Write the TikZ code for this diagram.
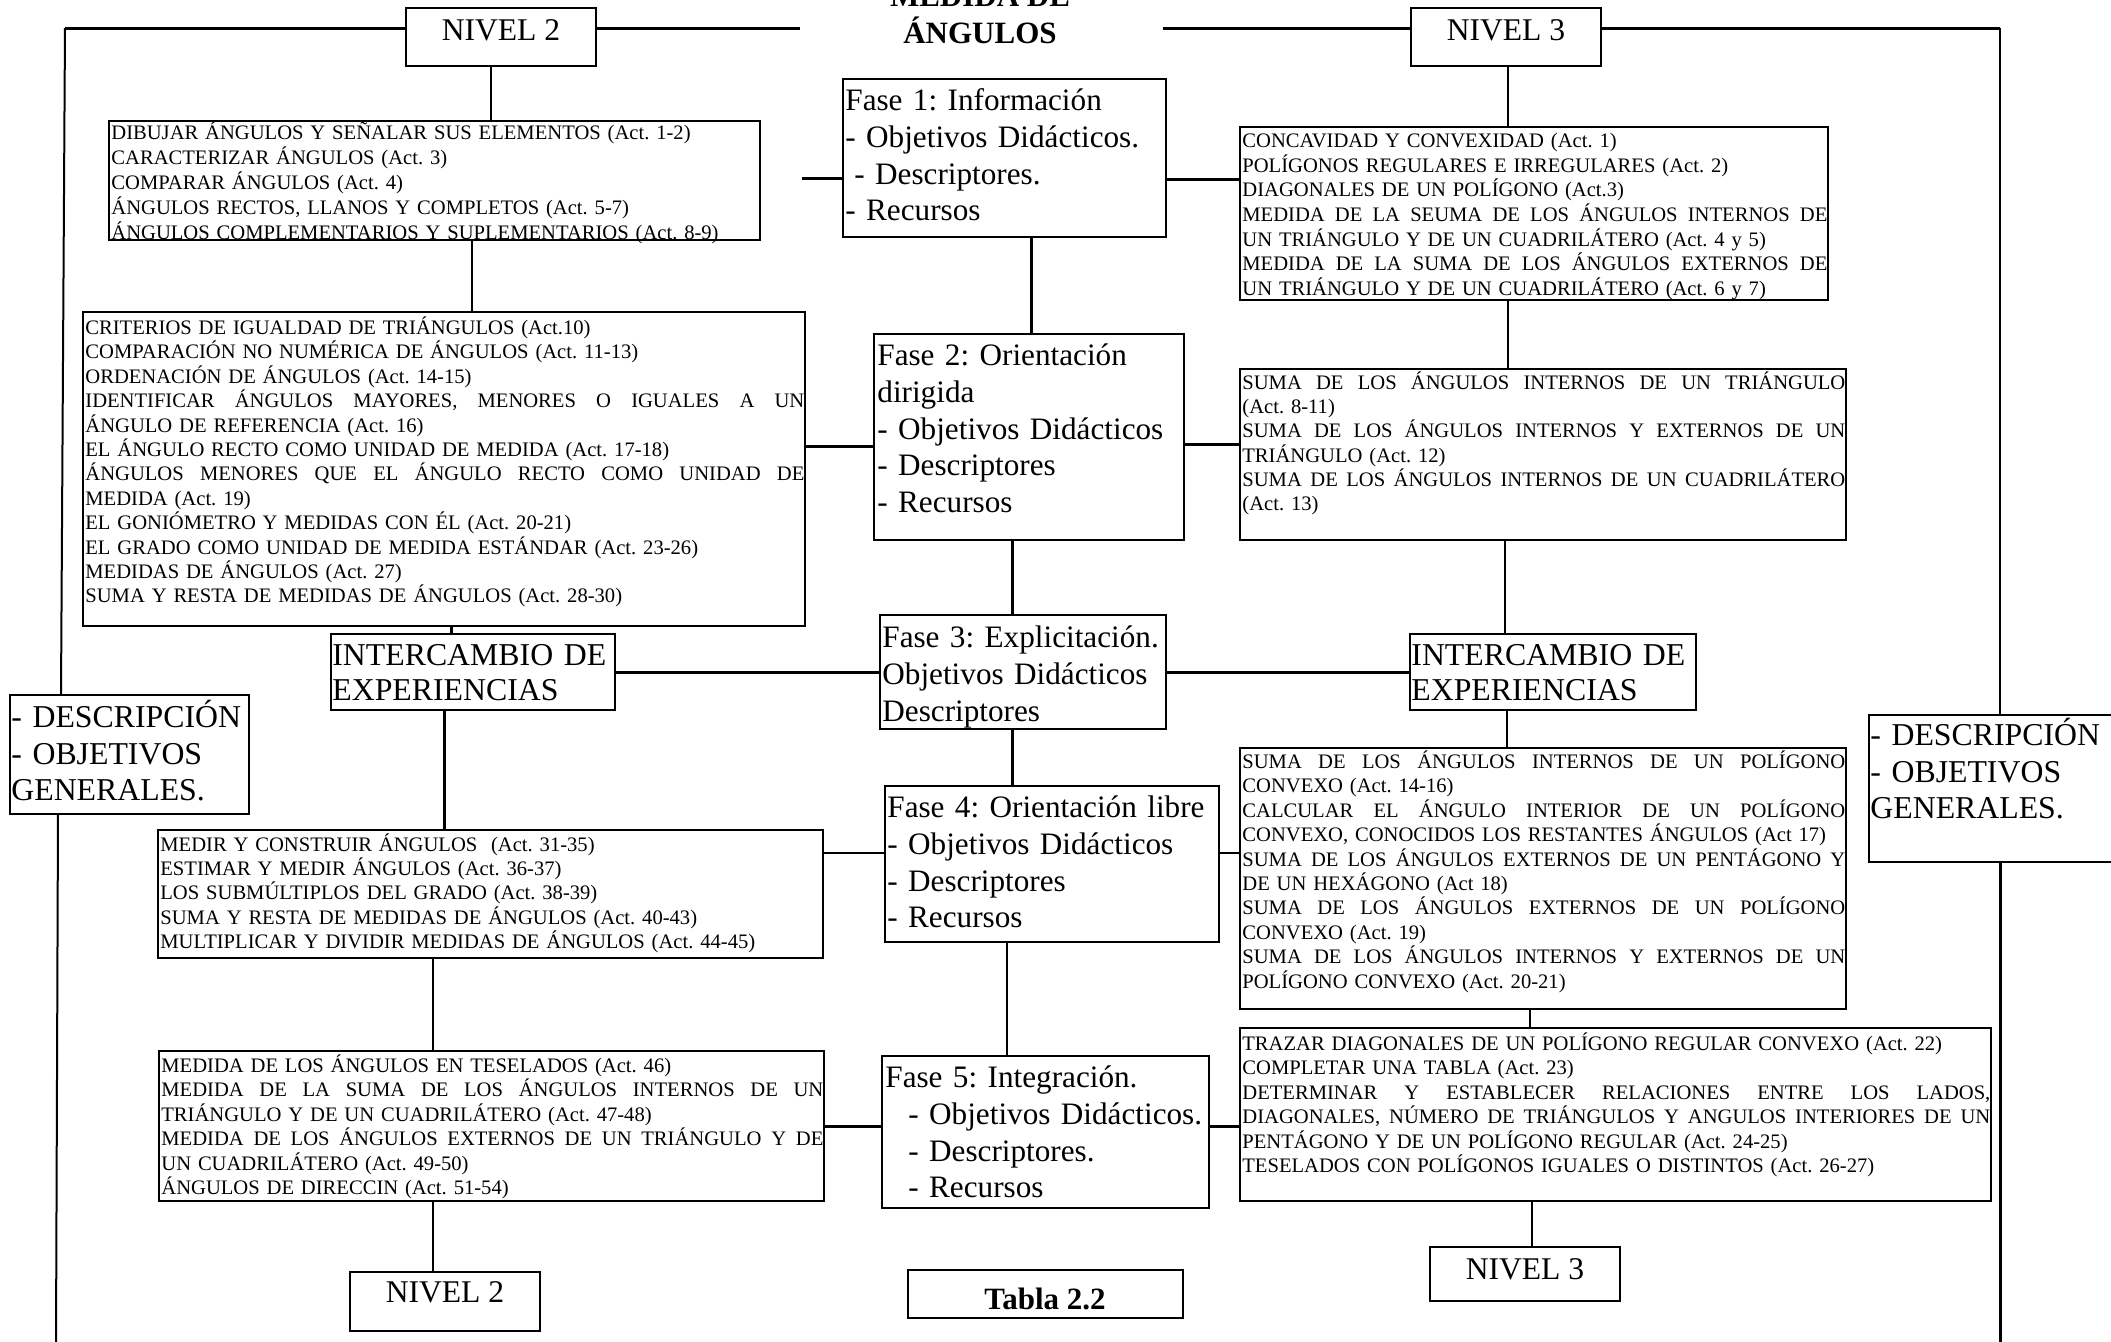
\documentclass[tikz,border=0pt]{standalone}
\usepackage{fontspec}
\setmainfont{Liberation Serif}
\usetikzlibrary{fit}
% a line of the given width whose interword spaces stretch to fill it
\newcommand\jl[2]{\leavevmode\hbox to #1{\spaceskip=.25em plus 1fil\relax #2}}
% fixed first-line heights, so that a node's top sits a known distance above its first baseline
\newcommand\smstrut{\rule{0pt}{10pt}}
\newcommand\bgstrut{\rule{0pt}{15pt}}
\begin{document}
\frenchspacing
\begin{tikzpicture}[x=0.5pt,y=-0.5pt,
  box/.style={draw, line width=1.2pt, inner sep=0pt, outer sep=0pt},
  smalltxt/.style={anchor=north west, inner sep=0pt, font=\fontsize{10.3pt}{12.2pt}\selectfont},
  bigtxt/.style={anchor=north west, inner sep=0pt, text width=220pt, font=\fontsize{15.6pt}{18.4pt}\selectfont},
  leveltxt/.style={anchor=base, inner sep=0pt, font=\fontsize{15.8pt}{18pt}\selectfont},
  titletxt/.style={anchor=base, inner sep=0pt, font=\bfseries\fontsize{15.5pt}{18pt}\selectfont},
  thickline/.style={line width=1.5pt},
  midline/.style={line width=1.0pt},
  thinline/.style={line width=0.7pt},
]
\path[use as bounding box, fill=white] (0,0) rectangle (2111,1341);

% ---------- title ----------
\node[titletxt] (title1) at (980,6) {MEDIDA DE};
\node[titletxt] (title2) at (980,43) {ÁNGULOS};

% ---------- boxes ----------
\node[box, fit={(406,8)(596,66)}] (n2t) {};
\node[box, fit={(109,121)(760,240)}] (dib) {};
\node[box, fit={(83,312)(805,626)}] (crit) {};
\node[box, fit={(331,634)(615,710)}] (intL) {};
\node[box, fit={(10,695)(249,814)}] (desL) {};
\node[box, fit={(158,830)(823,958)}] (medir) {};
\node[box, fit={(159,1051)(824,1201)}] (medida) {};
\node[box, fit={(350,1272)(540,1331)}] (n2b) {};
\node[box, fit={(843,79)(1166,237)}] (f1) {};
\node[box, fit={(874,334)(1184,540)}] (f2) {};
\node[box, fit={(880,615)(1166,729)}] (f3) {};
\node[box, fit={(885,786)(1219,942)}] (f4) {};
\node[box, fit={(882,1056)(1209,1208)}] (f5) {};
\node[box, fit={(908,1270)(1183,1318)}] (tabla) {};
\node[box, fit={(1411,8)(1601,66)}] (n3t) {};
\node[box, fit={(1240,127)(1828,300)}] (conc) {};
\node[box, fit={(1240,369)(1846,540)}] (sumt) {};
\node[box, fit={(1410,634)(1696,710)}] (intR) {};
\node[box, fit={(1869,715)(2125,862)}] (desR) {};
\node[box, fit={(1240,748)(1846,1009)}] (sump) {};
\node[box, fit={(1240,1028)(1991,1201)}] (traz) {};
\node[box, fit={(1430,1247)(1620,1301)}] (n3b) {};

% ---------- level labels ----------
\node[leveltxt] (n2tx) at (501,40) {NIVEL 2};
\node[leveltxt] (n3tx) at (1506,40) {NIVEL 3};
\node[leveltxt] (n2bx) at (445,1302) {NIVEL 2};
\node[leveltxt] (n3bx) at (1525,1279) {NIVEL 3};
\node[titletxt] (tablax) at (1045,1309) {Tabla 2.2};

% ---------- phase texts ----------
\node[bigtxt] (f1x) at (845,80) {\bgstrut Fase 1: Información\\- Objetivos Didácticos.\\\hspace*{4.5pt}- Descriptores.\\- Recursos};
\node[bigtxt] (f2x) at (877,335) {\bgstrut Fase 2: Orientación\\dirigida\\- Objetivos Didácticos\\- Descriptores\\- Recursos};
\node[bigtxt] (f3x) at (882,617) {\bgstrut Fase 3: Explicitación.\\Objetivos Didácticos\\Descriptores};
\node[bigtxt] (f4x) at (887,787) {\bgstrut Fase 4: Orientación libre\\- Objetivos Didácticos\\- Descriptores\\- Recursos};
\node[bigtxt] (f5x) at (885,1057) {\bgstrut Fase 5: Integración.\\\hspace*{11.5pt}- Objetivos Didácticos.\\\hspace*{11.5pt}- Descriptores.\\\hspace*{11.5pt}- Recursos};

\node[bigtxt, font=\fontsize{15.9pt}{17.5pt}\selectfont] (intLx) at (332,635) {\bgstrut INTERCAMBIO DE\\EXPERIENCIAS};
\node[bigtxt, font=\fontsize{15.9pt}{17.5pt}\selectfont] (intRx) at (1411,635) {\bgstrut INTERCAMBIO DE\\EXPERIENCIAS};
\node[bigtxt, font=\fontsize{15.9pt}{18.3pt}\selectfont] (desLx) at (11,697) {\bgstrut - DESCRIPCIÓN\\- OBJETIVOS\\GENERALES.};
\node[bigtxt, font=\fontsize{15.9pt}{18.3pt}\selectfont] (desRx) at (1870,715) {\bgstrut - DESCRIPCIÓN\\- OBJETIVOS\\GENERALES.};

% ---------- level 2 contents ----------
\node[smalltxt, text width=323pt, font=\fontsize{10.3pt}{12.5pt}\selectfont] (dibx) at (111,119) {\smstrut DIBUJAR ÁNGULOS Y SEÑALAR SUS ELEMENTOS (Act. 1-2)\\
CARACTERIZAR ÁNGULOS (Act. 3)\\
COMPARAR ÁNGULOS (Act. 4)\\
ÁNGULOS RECTOS, LLANOS Y COMPLETOS (Act. 5-7)\\
ÁNGULOS COMPLEMENTARIOS Y SUPLEMENTARIOS (Act. 8-9)};

\node[smalltxt, text width=359.5pt] (critx) at (85,314) {\smstrut CRITERIOS DE IGUALDAD DE TRIÁNGULOS (Act.10)\\
COMPARACIÓN NO NUMÉRICA DE ÁNGULOS (Act. 11-13)\\
ORDENACIÓN DE ÁNGULOS (Act. 14-15)\\
\jl{359.5pt}{IDENTIFICAR ÁNGULOS MAYORES, MENORES O IGUALES A UN}\\
ÁNGULO DE REFERENCIA (Act. 16)\\
EL ÁNGULO RECTO COMO UNIDAD DE MEDIDA (Act. 17-18)\\
\jl{359.5pt}{ÁNGULOS MENORES QUE EL ÁNGULO RECTO COMO UNIDAD DE}\\
MEDIDA (Act. 19)\\
EL GONIÓMETRO Y MEDIDAS CON ÉL (Act. 20-21)\\
EL GRADO COMO UNIDAD DE MEDIDA ESTÁNDAR (Act. 23-26)\\
MEDIDAS DE ÁNGULOS (Act. 27)\\
SUMA Y RESTA DE MEDIDAS DE ÁNGULOS (Act. 28-30)};

\node[smalltxt, text width=331pt, font=\fontsize{10.3pt}{12.1pt}\selectfont] (medirx) at (160,831) {\smstrut MEDIR Y CONSTRUIR ÁNGULOS~ (Act. 31-35)\\
ESTIMAR Y MEDIR ÁNGULOS (Act. 36-37)\\
LOS SUBMÚLTIPLOS DEL GRADO (Act. 38-39)\\
SUMA Y RESTA DE MEDIDAS DE ÁNGULOS (Act. 40-43)\\
MULTIPLICAR Y DIVIDIR MEDIDAS DE ÁNGULOS (Act. 44-45)};

\node[smalltxt, text width=331pt] (medidax) at (161,1052) {\smstrut MEDIDA DE LOS ÁNGULOS EN TESELADOS (Act. 46)\\
\jl{331pt}{MEDIDA DE LA SUMA DE LOS ÁNGULOS INTERNOS DE UN}\\
TRIÁNGULO Y DE UN CUADRILÁTERO (Act. 47-48)\\
\jl{331pt}{MEDIDA DE LOS ÁNGULOS EXTERNOS DE UN TRIÁNGULO Y DE}\\
UN CUADRILÁTERO (Act. 49-50)\\
ÁNGULOS DE DIRECCIN (Act. 51-54)};

% ---------- level 3 contents ----------
\node[smalltxt, text width=292.5pt, font=\fontsize{10.3pt}{12.35pt}\selectfont] (concx) at (1242,127) {\smstrut CONCAVIDAD Y CONVEXIDAD (Act. 1)\\
POLÍGONOS REGULARES E IRREGULARES (Act. 2)\\
DIAGONALES DE UN POLÍGONO (Act.3)\\
\jl{292.5pt}{MEDIDA DE LA SEUMA DE LOS ÁNGULOS INTERNOS DE}\\
UN TRIÁNGULO Y DE UN CUADRILÁTERO (Act. 4 y 5)\\
\jl{292.5pt}{MEDIDA DE LA SUMA DE LOS ÁNGULOS EXTERNOS DE}\\
UN TRIÁNGULO Y DE UN CUADRILÁTERO (Act. 6 y 7)};

\node[smalltxt, text width=301.5pt, font=\fontsize{10.3pt}{12.1pt}\selectfont] (sumtx) at (1242,369) {\smstrut\jl{301.5pt}{SUMA DE LOS ÁNGULOS INTERNOS DE UN TRIÁNGULO}\\
(Act. 8-11)\\
\jl{301.5pt}{SUMA DE LOS ÁNGULOS INTERNOS Y EXTERNOS DE UN}\\
TRIÁNGULO (Act. 12)\\
\jl{301.5pt}{SUMA DE LOS ÁNGULOS INTERNOS DE UN CUADRILÁTERO}\\
(Act. 13)};

\node[smalltxt, text width=301.5pt] (sumpx) at (1242,748) {\smstrut\jl{301.5pt}{SUMA DE LOS ÁNGULOS INTERNOS DE UN POLÍGONO}\\
CONVEXO (Act. 14-16)\\
\jl{301.5pt}{CALCULAR EL ÁNGULO INTERIOR DE UN POLÍGONO}\\
CONVEXO, CONOCIDOS LOS RESTANTES ÁNGULOS (Act 17)\\
\jl{301.5pt}{SUMA DE LOS ÁNGULOS EXTERNOS DE UN PENTÁGONO Y}\\
DE UN HEXÁGONO (Act 18)\\
\jl{301.5pt}{SUMA DE LOS ÁNGULOS EXTERNOS DE UN POLÍGONO}\\
CONVEXO (Act. 19)\\
\jl{301.5pt}{SUMA DE LOS ÁNGULOS INTERNOS Y EXTERNOS DE UN}\\
POLÍGONO CONVEXO (Act. 20-21)};

\node[smalltxt, text width=374pt, font=\fontsize{10.3pt}{12.25pt}\selectfont] (trazx) at (1242,1030) {\smstrut TRAZAR DIAGONALES DE UN POLÍGONO REGULAR CONVEXO (Act. 22)\\
COMPLETAR UNA TABLA (Act. 23)\\
\jl{374pt}{DETERMINAR Y ESTABLECER RELACIONES ENTRE LOS LADOS,}\\
\jl{374pt}{DIAGONALES, NÚMERO DE TRIÁNGULOS Y ANGULOS INTERIORES DE UN}\\
PENTÁGONO Y DE UN POLÍGONO REGULAR (Act. 24-25)\\
TESELADOS CON POLÍGONOS IGUALES O DISTINTOS (Act. 26-27)};

% ---------- free ends of the frame lines ----------
\coordinate (tl) at (65,28);
\coordinate (bl) at (56,1345);
\coordinate (tr) at (2000,28);
\coordinate (br) at (2000,1345);
\coordinate (tm1) at (800,28);
\coordinate (tm2) at (1163,28);
\coordinate (f1stub) at (802,178);

% ---------- frame ----------
\draw[thickline] (tl -| n2t.west) -- (tl);
\draw[midline] (tl) -- (desL.north -| 61,0);
\draw[midline] (desL.south -| 58,0) -- (bl);
\draw[thickline] (tl -| n2t.east) -- (tm1);
\draw[thickline] (tm2) -- (tm2 -| n3t.west);
\draw[thickline] (tr -| n3t.east) -- (tr);
\draw[midline] (tr) -- (desR.north -| tr);
\draw[thickline] (desR.south -| tr) -- (br);

% ---------- level 2 column ----------
\draw[midline] (n2t.south -| 491,0) -- (dib.north -| 491,0);
\draw[thinline] (dib.south -| 472,0) -- (crit.north -| 472,0);
\draw[thickline] (crit.south -| 451,0) -- (intL.north -| 451,0);
\draw[thickline] (intL.south -| 444,0) -- (medir.north -| 444,0);
\draw[thinline] (medir.south -| 433,0) -- (medida.north -| 433,0);
\draw[thinline] (medida.south -| 433,0) -- (n2b.north -| 433,0);

% ---------- phase column ----------
\draw[thickline] (f1stub) -- (f1.west |- f1stub);
\draw[thickline] (f1.east |- 0,179) -- (conc.west |- 0,179);
\draw[thickline] (f1.south -| 1031,0) -- (f2.north -| 1031,0);
\draw[thickline] (crit.east |- 0,446) -- (f2.west |- 0,446);
\draw[thickline] (f2.east |- 0,444) -- (sumt.west |- 0,444);
\draw[thickline] (f2.south -| 1012,0) -- (f3.north -| 1012,0);
\draw[thickline] (intL.east |- 0,672) -- (f3.west |- 0,672);
\draw[thickline] (f3.east |- 0,672) -- (intR.west |- 0,672);
\draw[thickline] (f3.south -| 1012,0) -- (f4.north -| 1012,0);
\draw[midline] (medir.east |- 0,853) -- (f4.west |- 0,853);
\draw[midline] (f4.east |- 0,853) -- (sump.west |- 0,853);
\draw[midline] (f4.south -| 1007,0) -- (f5.north -| 1007,0);
\draw[thickline] (medida.east |- 0,1126) -- (f5.west |- 0,1126);
\draw[thickline] (f5.east |- 0,1126) -- (traz.west |- 0,1126);

% ---------- level 3 column ----------
\draw[midline] (n3t.south -| 1508,0) -- (conc.north -| 1508,0);
\draw[midline] (conc.south -| 1508,0) -- (sumt.north -| 1508,0);
\draw[midline] (sumt.south -| 1505,0) -- (intR.north -| 1505,0);
\draw[midline] (intR.south -| 1507,0) -- (sump.north -| 1507,0);
\draw[midline] (sump.south -| 1530,0) -- (traz.north -| 1530,0);
\draw[midline] (traz.south -| 1532,0) -- (n3b.north -| 1532,0);
\end{tikzpicture}
\end{document}
